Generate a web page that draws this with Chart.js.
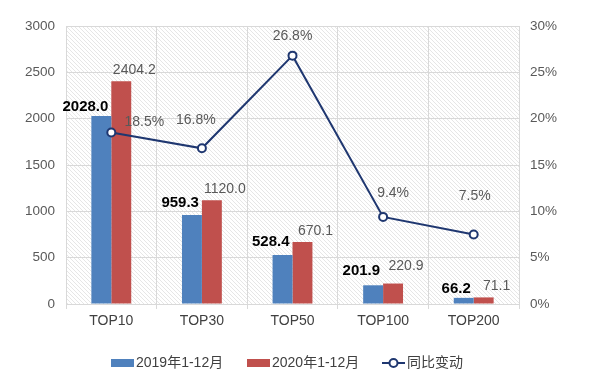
<!DOCTYPE html>
<html>
<head>
<meta charset="utf-8">
<script src="https://cdn.jsdelivr.net/npm/chart.js@4/dist/chart.umd.min.js"></script>
<style>
html,body{margin:0;padding:0;background:#fff;}
#wrap{width:600px;height:381px;position:relative;}
</style>
</head>
<body>
<div id="wrap"><canvas id="c" width="600" height="381"></canvas></div>
<script>
const categories = ['TOP10', 'TOP30', 'TOP50', 'TOP100', 'TOP200'];
const sales2019 = [2028.0, 959.3, 528.4, 201.9, 66.2];
const sales2020 = [2404.2, 1120.0, 670.1, 220.9, 71.1];
const yoyChange = [18.5, 16.8, 26.8, 9.4, 7.5];
const leftTicks = [0, 500, 1000, 1500, 2000, 2500, 3000];
const rightTicks = [0, 5, 10, 15, 20, 25, 30];
const seriesNames = ['2019年1-12月', '2020年1-12月', '同比变动'];

const BLUE = '#4F81BD', RED = '#C0504D', NAVY = '#1F3770';
const FONT = '"Liberation Sans", Arial, "Noto Sans CJK SC", sans-serif';

// label nudges (styling only): [dx, dy] relative to default position
const lineLabelNudge = [[33, 12], [-6, -6], [0, 2], [10, -2], [1, -16]];
const redLabelNudge = [[0, 0], [0, 0], [0, 0], [0, -6], [0, 0]];
const blueLabelNudge = [[0, 2], [0, -1], [0, -2], [0, -3], [0, 2]];

function makeHatch() {
  const p = document.createElement('canvas');
  p.width = 4; p.height = 4;
  const g = p.getContext('2d');
  g.fillStyle = '#ffffff'; g.fillRect(0, 0, 4, 4);
  g.strokeStyle = '#e6e6e6'; g.lineWidth = 1;
  g.beginPath();
  g.moveTo(0, 0); g.lineTo(4, 4);
  g.moveTo(-1, 3); g.lineTo(1, 5);
  g.moveTo(3, -1); g.lineTo(5, 1);
  g.stroke();
  return p;
}

const bgPlugin = {
  id: 'bgHatch',
  beforeDraw(chart) {
    const {ctx, chartArea: a} = chart;
    ctx.save();
    ctx.fillStyle = ctx.createPattern(makeHatch(), 'repeat');
    ctx.fillRect(a.left, a.top, a.right - a.left, a.bottom - a.top);
    ctx.restore();
  }
};

const labelPlugin = {
  id: 'valueLabels',
  afterDatasetsDraw(chart) {
    const ctx = chart.ctx;
    ctx.save();
    ctx.textBaseline = 'middle';
    chart.getDatasetMeta(1).data.forEach((el, i) => {
      ctx.font = 'bold 15px ' + FONT;
      ctx.fillStyle = '#000000';
      ctx.textAlign = 'right';
      ctx.fillText(sales2019[i].toFixed(1), el.x + 7 + blueLabelNudge[i][0], el.y - 11 + blueLabelNudge[i][1]);
    });
    chart.getDatasetMeta(2).data.forEach((el, i) => {
      ctx.font = '14px ' + FONT;
      ctx.fillStyle = '#595959';
      ctx.textAlign = 'center';
      ctx.fillText(sales2020[i].toFixed(1), el.x + 13 + redLabelNudge[i][0], el.y - 11 + redLabelNudge[i][1]);
    });
    chart.getDatasetMeta(0).data.forEach((el, i) => {
      ctx.font = '14px ' + FONT;
      ctx.fillStyle = '#595959';
      ctx.textAlign = 'center';
      ctx.fillText(yoyChange[i].toFixed(1) + '%', el.x + lineLabelNudge[i][0], el.y - 22 + lineLabelNudge[i][1]);
    });
    ctx.restore();
  }
};

const legendPlugin = {
  id: 'customLegend',
  afterDraw(chart) {
    const ctx = chart.ctx;
    const y = 363;
    ctx.save();
    ctx.font = '14px ' + FONT;
    ctx.textBaseline = 'middle';
    ctx.textAlign = 'left';
    ctx.fillStyle = BLUE; ctx.fillRect(111, y - 4, 23, 8);
    ctx.fillStyle = '#404040'; ctx.fillText(seriesNames[0], 136, y);
    ctx.fillStyle = RED; ctx.fillRect(247, y - 4, 23, 8);
    ctx.fillStyle = '#404040'; ctx.fillText(seriesNames[1], 272, y);
    ctx.strokeStyle = NAVY; ctx.lineWidth = 2;
    ctx.beginPath(); ctx.moveTo(382, y); ctx.lineTo(405, y); ctx.stroke();
    ctx.beginPath(); ctx.arc(393.5, y, 4, 0, Math.PI * 2);
    ctx.fillStyle = '#fff'; ctx.fill(); ctx.stroke();
    ctx.fillStyle = '#404040'; ctx.fillText(seriesNames[2], 407, y);
    ctx.restore();
  }
};

new Chart(document.getElementById('c'), {
  data: {
    labels: categories,
    datasets: [
      {type: 'line', label: seriesNames[2], data: yoyChange, yAxisID: 'y1',
       borderColor: NAVY, borderWidth: 2, pointRadius: 4, pointBorderWidth: 2,
       pointBackgroundColor: '#ffffff', pointBorderColor: NAVY, tension: 0, order: 0},
      {type: 'bar', label: seriesNames[0], data: sales2019, yAxisID: 'y',
       backgroundColor: BLUE, categoryPercentage: 0.44, barPercentage: 1, order: 1},
      {type: 'bar', label: seriesNames[1], data: sales2020, yAxisID: 'y',
       backgroundColor: RED, categoryPercentage: 0.44, barPercentage: 1, order: 1}
    ]
  },
  options: {
    responsive: false,
    animation: false,
    devicePixelRatio: 1,
    layout: {padding: {top: 26, bottom: 47, left: 0, right: 0}},
    plugins: {legend: {display: false}, tooltip: {enabled: false}},
    scales: {
      x: {
        offset: true,
        grid: {offset: true, color: '#d9d9d9', tickLength: 5, drawTicks: true},
        border: {color: '#d9d9d9'},
        ticks: {color: '#404040', font: {size: 14, family: FONT}, padding: 4},
        afterFit(s) { s.height = 30; }
      },
      y: {
        position: 'left', min: 0, max: 3000,
        afterBuildTicks(s) { s.ticks = leftTicks.map(v => ({value: v})); },
        grid: {color: '#d9d9d9', drawTicks: false},
        border: {color: '#d9d9d9'},
        ticks: {color: '#595959', font: {size: 13.5, family: FONT}, padding: 11,
                callback: v => String(v)},
        afterFit(s) { s.width = 66; }
      },
      y1: {
        position: 'right', min: 0, max: 30,
        afterBuildTicks(s) { s.ticks = rightTicks.map(v => ({value: v})); },
        grid: {drawOnChartArea: false, drawTicks: false},
        border: {color: '#d9d9d9'},
        ticks: {color: '#595959', font: {size: 13.5, family: FONT}, padding: 11,
                callback: v => v + '%'},
        afterFit(s) { s.width = 81; }
      }
    }
  },
  plugins: [bgPlugin, labelPlugin, legendPlugin]
});
</script>
</body>
</html>
